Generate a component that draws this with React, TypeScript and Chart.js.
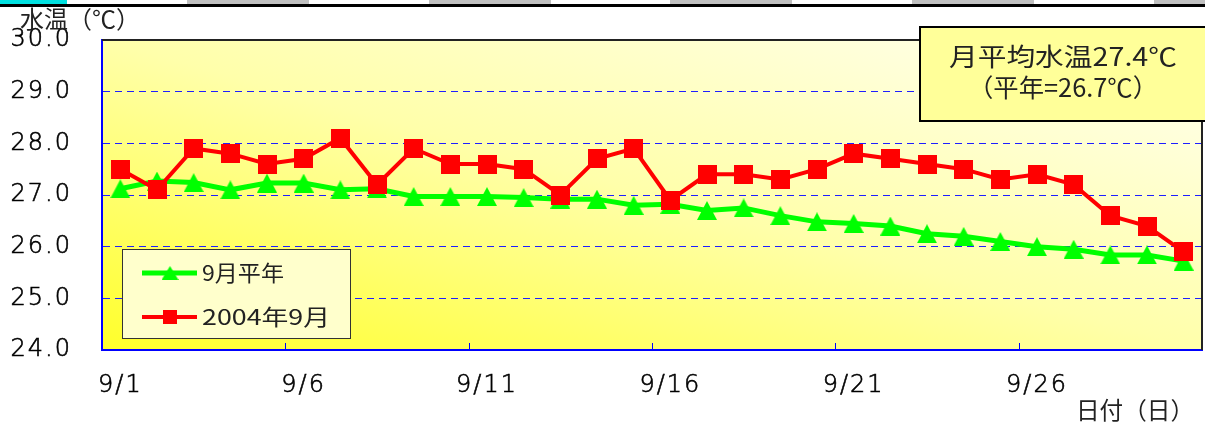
import React, { useEffect, useRef } from "react";
import { Chart, registerables } from "chart.js";

Chart.register(...registerables);

// ---------- data ----------
const DAYS = [
  "9/1", "9/2", "9/3", "9/4", "9/5", "9/6", "9/7", "9/8", "9/9", "9/10",
  "9/11", "9/12", "9/13", "9/14", "9/15", "9/16", "9/17", "9/18", "9/19", "9/20",
  "9/21", "9/22", "9/23", "9/24", "9/25", "9/26", "9/27", "9/28", "9/29", "9/30",
];
const SHOWN_DAY_LABELS = ["9/1", "9/6", "9/11", "9/16", "9/21", "9/26"];
const NORMAL_SEPT = [
  27.12, 27.27, 27.24, 27.1, 27.23, 27.23, 27.1, 27.12, 26.97, 26.97,
  26.97, 26.95, 26.92, 26.92, 26.8, 26.82, 26.7, 26.75, 26.6, 26.48,
  26.45, 26.4, 26.25, 26.2, 26.1, 26.0, 25.95, 25.84, 25.84, 25.72,
];
const SEPT_2004 = [
  27.5, 27.1, 27.9, 27.8, 27.6, 27.7, 28.1, 27.2, 27.9, 27.6,
  27.6, 27.5, 27.0, 27.7, 27.9, 26.9, 27.4, 27.4, 27.3, 27.5,
  27.8, 27.7, 27.6, 27.5, 27.3, 27.4, 27.2, 26.6, 26.4, 25.9,
];
const Y_TICKS = [24, 25, 26, 27, 28, 29, 30];
const SERIES_NAMES = ["9月平年", "2004年9月"];
const Y_TITLE = "水温（℃）";
const X_TITLE = "日付（日）";
const NOTE_LINES = ["月平均水温27.4℃", "（平年=26.7℃）"];

// ---------- styles ----------
const NUM_FONT = '"DejaVu Sans", "Noto Sans CJK JP", sans-serif';
const JP_FONT = '"Noto Sans CJK JP", "DejaVu Sans", sans-serif';
const GREEN = "#00FF00";
const RED = "#FF0000";
const BLUE = "#0000FF";
const TEXT = "#222222";
const TICK_TEXT = "#000000";
const TICK_SPACING = "2px";

function makeTriangle(w: number, h: number, color: string) {
  const c = document.createElement("canvas");
  c.width = w;
  c.height = h;
  const g = c.getContext("2d")!;
  g.fillStyle = color;
  g.beginPath();
  g.moveTo(w / 2, 0);
  g.lineTo(w, h);
  g.lineTo(0, h);
  g.closePath();
  g.fill();
  return c;
}

function makeSquare(s: number, color: string) {
  const c = document.createElement("canvas");
  c.width = s;
  c.height = s;
  const g = c.getContext("2d")!;
  g.fillStyle = color;
  g.fillRect(0, 0, s, s);
  return c;
}

function fitText(
  ctx: CanvasRenderingContext2D,
  text: string,
  x: number,
  y: number,
  font: string,
  width: number,
  align: "left" | "right" | "center"
) {
  ctx.save();
  (ctx as any).letterSpacing = "0px";
  ctx.font = font;
  const w = ctx.measureText(text).width;
  const sx = width / w;
  const left = align === "left" ? x : align === "right" ? x - width : x - width / 2;
  ctx.translate(left, y);
  ctx.scale(sx, 1);
  ctx.textAlign = "left";
  ctx.textBaseline = "middle";
  ctx.fillStyle = TEXT;
  ctx.fillText(text, 0, 0);
  ctx.restore();
}

export default function App() {
  const ref = useRef<HTMLCanvasElement>(null);

  useEffect(() => {
    const canvas = ref.current;
    if (!canvas) return;

    const tri = makeTriangle(20, 19, GREEN);
    const sq = makeSquare(19, RED);
    const triSmall = makeTriangle(17, 14, GREEN);
    const sqSmall = makeSquare(14, RED);

    const decor = {
      id: "decor",
      beforeUpdate(chart: any) {
        (chart.ctx as any).letterSpacing = TICK_SPACING;
      },
      beforeDraw(chart: any) {
        const { ctx, chartArea } = chart;
        (ctx as any).letterSpacing = TICK_SPACING;
        const { left, top, right, bottom } = chartArea;
        const W = right - left;
        const H = bottom - top;
        const s = 2 / (H / W + W / H);
        const g = ctx.createLinearGradient(left, bottom, left + s * H, bottom - s * W);
        g.addColorStop(0, "#FFFF2A");
        g.addColorStop(0.5, "#FFFFAA");
        g.addColorStop(1, "#FFFFF2");
        ctx.save();
        ctx.fillStyle = g;
        ctx.fillRect(left, top, W, H);
        ctx.restore();
      },
      afterDatasetsDraw(chart: any) {
        const { ctx, chartArea, scales } = chart;
        const xs = scales.x;
        ctx.save();
        // top & right frame
        ctx.strokeStyle = "#222";
        ctx.lineWidth = 2;
        ctx.beginPath();
        ctx.moveTo(chartArea.left, chartArea.top);
        ctx.lineTo(chartArea.right, chartArea.top);
        ctx.lineTo(chartArea.right, chartArea.bottom);
        ctx.stroke();
        // inward tick marks at category boundaries
        ctx.strokeStyle = BLUE;
        ctx.lineWidth = 1;
        DAYS.forEach((d, i) => {
          if (i === 0 || !SHOWN_DAY_LABELS.includes(d)) return;
          const x = Math.round((xs.getPixelForValue(i - 1) + xs.getPixelForValue(i)) / 2) + 0.5;
          ctx.beginPath();
          ctx.moveTo(x, chartArea.bottom - 7);
          ctx.lineTo(x, chartArea.bottom);
          ctx.stroke();
        });
        ctx.restore();
      },
      afterDraw(chart: any) {
        const { ctx } = chart;
        // axis titles
        fitText(ctx, Y_TITLE, 20, 19, `24px ${JP_FONT}`, 120, "left");
        fitText(ctx, X_TITLE, 1194, 410, `24px ${JP_FONT}`, 118, "right");

        // legend box
        ctx.save();
        ctx.fillStyle = "#FFFFCC";
        ctx.strokeStyle = "#333";
        ctx.lineWidth = 1;
        ctx.fillRect(122, 249, 228, 89);
        ctx.strokeRect(122.5, 249.5, 228, 89);
        const rows = [
          { y: 273, color: GREEN, lw: 5, img: triSmall, name: SERIES_NAMES[0], w: 82 },
          { y: 317, color: RED, lw: 4, img: sqSmall, name: SERIES_NAMES[1], w: 128 },
        ];
        rows.forEach((r) => {
          ctx.strokeStyle = r.color;
          ctx.lineWidth = r.lw;
          ctx.beginPath();
          ctx.moveTo(142, r.y);
          ctx.lineTo(197, r.y);
          ctx.stroke();
          ctx.drawImage(r.img, 170 - r.img.width / 2, r.y - r.img.height / 2);
          fitText(ctx, r.name, 202, r.y, `22px ${JP_FONT}`, r.w, "left");
        });

        // note box (runs off the right edge)
        ctx.fillStyle = "#FFFF99";
        ctx.fillRect(920, 27, 290, 94);
        ctx.strokeStyle = "#000";
        ctx.lineWidth = 2;
        ctx.strokeRect(920, 27, 290, 94);
        ctx.restore();
        fitText(ctx, NOTE_LINES[0], 949, 56, `25px ${JP_FONT}`, 228, "left");
        fitText(ctx, NOTE_LINES[1], 968, 87, `25px ${JP_FONT}`, 190, "left");
      },
    };

    const chart = new Chart(canvas, {
      type: "line",
      data: {
        labels: DAYS,
        datasets: [
          {
            label: SERIES_NAMES[0],
            data: NORMAL_SEPT,
            borderColor: GREEN,
            backgroundColor: GREEN,
            borderWidth: 5,
            pointStyle: tri as any,
            pointRadius: 10,
            tension: 0,
            order: 1,
          },
          {
            label: SERIES_NAMES[1],
            data: SEPT_2004,
            borderColor: RED,
            backgroundColor: RED,
            borderWidth: 4,
            pointStyle: sq as any,
            pointRadius: 10,
            tension: 0,
            order: 0,
          },
        ],
      },
      options: {
        animation: false,
        responsive: false,
        devicePixelRatio: 1,
        layout: { autoPadding: false, padding: { top: 40, right: 3, left: 0, bottom: 0 } },
        plugins: {
          legend: { display: false },
          tooltip: { enabled: false },
          title: { display: false },
        },
        scales: {
          x: {
            type: "category",
            offset: true,
            afterFit: (s: any) => {
              s.height = 74;
              s.paddingLeft = 0;
              s.paddingRight = 0;
            },
            grid: { display: true, drawOnChartArea: false, drawTicks: false, offset: true },
            border: { display: true, color: BLUE, width: 2 },
            ticks: {
              autoSkip: false,
              maxRotation: 0,
              minRotation: 0,
              padding: 0,
              color: TICK_TEXT,
              textStrokeColor: TICK_TEXT,
              textStrokeWidth: 0.6,
              font: { family: NUM_FONT, size: 24, weight: 200, lineHeight: 3 },
              callback: (_v: any, i: number) =>
                SHOWN_DAY_LABELS.includes(DAYS[i]) ? DAYS[i] : "",
            },
          },
          y: {
            min: Y_TICKS[0],
            max: Y_TICKS[Y_TICKS.length - 1],
            afterFit: (s: any) => {
              s.width = 102;
              s.paddingTop = 0;
              s.paddingBottom = 0;
            },
            afterBuildTicks: (s: any) => {
              s.ticks = Y_TICKS.map((v) => ({ value: v }));
            },
            grid: {
              drawTicks: false,
              lineWidth: 1,
              color: (c: any) =>
                c.tick && (c.tick.value === Y_TICKS[0] || c.tick.value === Y_TICKS[Y_TICKS.length - 1])
                  ? "rgba(0,0,0,0)"
                  : "#1E1EFF",
            },
            border: { display: true, color: BLUE, width: 2, dash: [7, 5] },
            ticks: {
              padding: 30,
              color: TICK_TEXT,
              textStrokeColor: TICK_TEXT,
              textStrokeWidth: 0.6,
              font: { family: NUM_FONT, size: 24, weight: 200 },
              callback: (v: any) => Number(v).toFixed(1),
            },
          },
        },
      },
      plugins: [decor],
    } as any);

    return () => chart.destroy();
  }, []);

  const grayCells = [0, 1, 2, 3, 4];
  return (
    <div
      style={{
        position: "fixed",
        left: 0,
        top: 0,
        width: 1205,
        height: 424,
        background: "#fff",
        overflow: "hidden",
      }}
    >
      <canvas
        ref={ref}
        width={1205}
        height={424}
        style={{ position: "absolute", left: 0, top: 0, width: 1205, height: 424 }}
      />
      <div style={{ position: "absolute", left: 0, top: 0, width: 67, height: 4, background: "#00E0E0" }} />
      {grayCells.map((k) => (
        <div
          key={k}
          style={{
            position: "absolute",
            left: 187 + k * 241.7,
            top: 0,
            width: 122,
            height: 4,
            background: "#C0C0C0",
          }}
        />
      ))}
      <div style={{ position: "absolute", left: 0, top: 4, width: 1205, height: 3, background: "#000" }} />
    </div>
  );
}
